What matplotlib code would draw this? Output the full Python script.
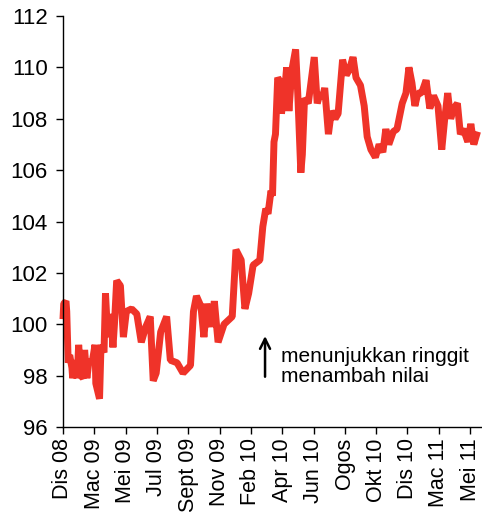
import matplotlib
matplotlib.use("Agg")
import matplotlib.pyplot as plt

plt.rcParams['font.family'] = ['Liberation Sans', 'DejaVu Sans']

# trading-day index and ringgit index value
day = [0, 1, 4, 5, 7, 9, 12, 13, 16, 19, 21, 24, 27, 29, 32, 35, 39, 43, 44, 49,
       51, 55, 57, 60, 64, 67, 69, 72, 77, 81, 85, 92, 99, 105, 111, 117, 121, 125,
       131, 139, 144, 153, 161, 171, 175, 179, 185, 189, 193, 199, 203, 208, 216,
       227, 232, 239, 244, 249, 255, 264, 268, 272, 275, 279, 281, 283, 285, 288,
       292, 293, 297, 300, 303, 307, 312, 315, 319, 321, 324, 329, 333, 337, 341,
       345, 348, 351, 356, 360, 365, 369, 375, 380, 384, 389, 393, 399, 404, 408,
       413, 419, 424, 429, 433, 437, 443, 448, 455, 460, 464, 468, 472, 476, 481,
       487, 492, 497, 503, 508, 512, 516, 520, 524, 529, 533, 537, 543, 547, 551,
       556]
rate = [100.2, 100.8, 100.9, 100.5, 98.5, 98.8, 98.3, 97.9, 98.6, 97.9, 99.2, 98.0,
        97.9, 99.0, 97.9, 98.6, 98.5, 99.2, 97.7, 97.1, 99.2, 98.9, 101.2, 99.5,
        100.4, 99.1, 100.0, 101.7, 101.5, 99.5, 100.5, 100.6, 100.4, 99.3, 99.9,
        100.3, 97.8, 98.1, 99.7, 100.3, 98.6, 98.5, 98.1, 98.4, 100.5, 101.1, 100.7,
        99.5, 100.8, 99.9, 100.9, 99.3, 100.0, 100.3, 102.9, 102.5, 100.6, 101.2,
        102.3, 102.5, 103.8, 104.5, 104.3, 105.2, 105.0, 107.1, 107.4, 109.6, 109.4,
        108.2, 109.0, 110.0, 108.3, 109.9, 110.7, 108.9, 105.9, 106.6, 108.8, 108.6,
        109.5, 110.4, 108.6, 109.0, 108.8, 109.2, 107.4, 108.3, 108.0, 108.2, 110.3,
        109.7, 109.9, 110.4, 109.6, 109.3, 108.5, 107.3, 106.8, 106.5, 107.0, 106.7,
        107.6, 107.0, 107.5, 107.6, 108.6, 109.0, 110.0, 109.4, 108.5, 109.0, 109.0,
        109.5, 108.4, 108.9, 108.5, 106.8, 108.0, 109.0, 108.0, 108.4, 108.6, 107.4,
        107.6, 107.1, 107.8, 107.0, 107.5]

tick_days = [0, 42, 84, 126, 168, 210, 252, 294, 336, 378, 420, 462, 504, 546]
tick_labels = ['Dis 08', 'Mac 09', 'Mei 09', 'Jul 09', 'Sept 09', 'Nov 09',
               'Feb 10', 'Apr 10', 'Jun 10', 'Ogos', 'Okt 10', 'Dis 10',
               'Mac 11', 'Mei 11']

fig = plt.figure(figsize=(4.82, 5.13), dpi=100)
ax = fig.add_axes([0.1307, 0.1676, 0.8693, 0.8012])

ax.plot(day, rate, color='#ef3329', lw=5, solid_joinstyle='bevel',
        solid_capstyle='butt', clip_on=False)

ax.set_xlim(0, 562)
ax.set_ylim(96, 112)
ax.set_yticks(range(96, 113, 2))
ax.set_xticks(tick_days)
ax.set_xticklabels(tick_labels, rotation=90)

for side in ['top', 'right']:
    ax.spines[side].set_visible(False)
for side in ['left', 'bottom']:
    ax.spines[side].set_linewidth(1.0)
ax.tick_params(axis='y', direction='out', length=5, width=1, pad=6, labelsize=16)
ax.tick_params(axis='x', direction='out', length=5, width=1, pad=3, labelsize=15.5)

# arrow + note
ax.annotate('', xy=(271, 99.65), xytext=(271, 97.85),
            arrowprops=dict(arrowstyle='->', lw=1.8, color='black',
                            mutation_scale=18))
ax.text(293, 98.35, 'menunjukkan ringgit\nmenambah nilai', fontsize=15,
        va='center', ha='left', linespacing=1.05)

fig.savefig('out.png', dpi=100)
